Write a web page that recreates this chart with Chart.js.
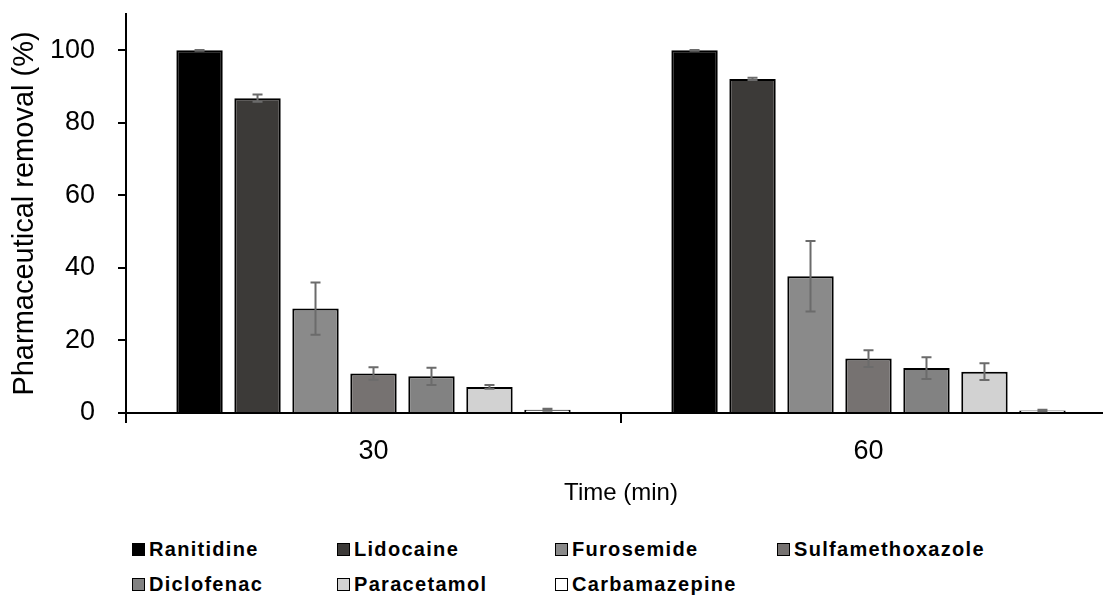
<!DOCTYPE html>
<html>
<head>
<meta charset="utf-8">
<script src="https://cdn.jsdelivr.net/npm/chart.js@4"></script>
<style>
  html, body { margin: 0; padding: 0; background: #fff; overflow: hidden; width: 1103px; height: 597px; }
  #wrap { position: absolute; left: 0; top: 0; width: 1116px; height: 510px; }
  #legend { position: absolute; left: 132px; top: 532px; font: bold 20px "Liberation Sans", Arial, sans-serif; letter-spacing: 1.3px; color: #000; }
  .row { display: flex; height: 35px; align-items: center; }
  .item { display: flex; align-items: center; }
  .box { width: 13px; height: 13px; box-sizing: border-box; border: 1px solid #000; margin-right: 4px; }
</style>
</head>
<body>
<div id="wrap"><canvas id="chart"></canvas></div>
<div id="legend"></div>
<script>
// Data
const times = ['30', '60'];
const drugs = ['Ranitidine', 'Lidocaine', 'Furosemide', 'Sulfamethoxazole', 'Diclofenac', 'Paracetamol', 'Carbamazepine'];
const removal30 = [100, 86.8, 28.8, 10.9, 10.1, 7.2, 0.9];
const removal60 = [100, 92.1, 37.7, 15.0, 12.4, 11.4, 0.7];
const error30 = [0.1, 1.0, 7.2, 1.7, 2.4, 0.5, 0.3];
const error60 = [0.1, 0.3, 9.7, 2.3, 3.0, 2.3, 0.2];
const yTicks = [0, 20, 40, 60, 80, 100];

const colors = ['#000000', '#3c3a38', '#8a8a8a', '#767271', '#828282', '#d2d2d2', '#ffffff'];
const legendCols = [205, 218, 222, 260];

Chart.defaults.font.family = '"Liberation Sans", Arial, sans-serif';
Chart.defaults.color = '#000';

const datasets = drugs.map((name, i) => ({
  label: name,
  data: [removal30[i], removal60[i]],
  errors: [error30[i], error60[i]],
  backgroundColor: colors[i],
  borderColor: '#000',
  borderWidth: 2,
  categoryPercentage: 0.82,
  barPercentage: 0.8,
}));

// error bars drawn through the y scale
const errorBars = {
  id: 'errorBars',
  afterDatasetsDraw(chart) {
    const ctx = chart.ctx;
    const y = chart.scales.y;
    ctx.save();
    ctx.strokeStyle = '#6b6b6b';
    ctx.lineWidth = 2;
    chart.data.datasets.forEach((ds, i) => {
      chart.getDatasetMeta(i).data.forEach((bar, j) => {
        const v = ds.data[j], e = ds.errors[j];
        const top = y.getPixelForValue(v + e);
        const bot = y.getPixelForValue(Math.max(0, v - e));
        ctx.beginPath();
        ctx.moveTo(bar.x, top); ctx.lineTo(bar.x, bot);
        ctx.moveTo(bar.x - 5, top); ctx.lineTo(bar.x + 5, top);
        ctx.moveTo(bar.x - 5, bot); ctx.lineTo(bar.x + 5, bot);
        ctx.stroke();
      });
    });
    ctx.restore();
  }
};

const noPad = (s) => { s.paddingTop = 0; s.paddingBottom = 0; s.paddingLeft = 0; s.paddingRight = 0; };

new Chart(document.getElementById('chart'), {
  type: 'bar',
  data: { labels: times, datasets },
  options: {
    responsive: true,
    maintainAspectRatio: false,
    animation: false,
    layout: { padding: { top: 14, left: 0, right: 0, bottom: 0 } },
    plugins: { legend: { display: false }, tooltip: { enabled: false } },
    scales: {
      x: {
        grid: { drawOnChartArea: false, drawTicks: true, tickLength: 10, color: '#000', lineWidth: 2, offset: true },
        border: { display: true, color: '#000', width: 2 },
        ticks: { font: { size: 27 }, color: '#000', padding: 12 },
        title: { display: true, text: 'Time (min)', font: { size: 24 }, color: '#000', padding: { top: 0, bottom: 2 } },
        afterFit(s) { s.height = 97; noPad(s); }
      },
      y: {
        min: 0,
        max: 110,
        afterBuildTicks(s) { s.ticks = yTicks.map(v => ({ value: v })); },
        ticks: { font: { size: 27 }, color: '#000', padding: 23 },
        grid: { drawOnChartArea: false, drawTicks: true, tickLength: 8, color: '#000', lineWidth: 2 },
        border: { display: true, color: '#000', width: 2 },
        title: { display: true, text: 'Pharmaceutical removal (%)', font: { size: 29 }, color: '#000', padding: { top: 8, bottom: 0 } },
        afterFit(s) { s.width = 126; noPad(s); }
      }
    }
  },
  plugins: [errorBars]
});

// legend in fixed columns, two rows
const legend = document.getElementById('legend');
[drugs.slice(0, 4), drugs.slice(4)].forEach((rowNames, r) => {
  const row = document.createElement('div');
  row.className = 'row';
  rowNames.forEach((name, c) => {
    const i = r * 4 + c;
    const item = document.createElement('div');
    item.className = 'item';
    item.style.width = legendCols[c] + 'px';
    const box = document.createElement('span');
    box.className = 'box';
    box.style.background = colors[i];
    const txt = document.createElement('span');
    txt.textContent = name;
    item.appendChild(box);
    item.appendChild(txt);
    row.appendChild(item);
  });
  legend.appendChild(row);
});
</script>
</body>
</html>
